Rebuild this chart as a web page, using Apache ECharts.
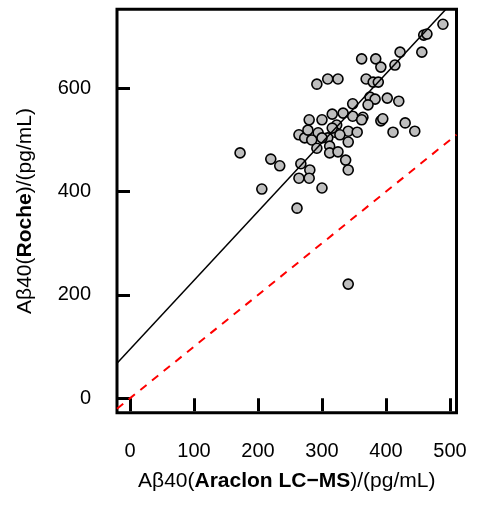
<!DOCTYPE html>
<html>
<head>
<meta charset="utf-8">
<script src="https://cdn.jsdelivr.net/npm/echarts@6/dist/echarts.min.js"></script>
<style>html,body{margin:0;padding:0;background:#fff}#c{width:486px;height:505px}</style>
</head>
<body>
<div id="c"></div>
<script>
// Araclon LC-MS Aβ40 (x) vs Roche Aβ40 (y), pg/mL
const araclon = [489,459,464,456,422,414,362,384,392,292,309,325,369,380,388,375,383,402,420,372,348,316,333,348,364,392,395,362,430,411,445,323,341,355,320,280,300,264,273,278,294,284,309,316,292,312,312,325,341,337,341,220,234,267,281,264,280,300,206,261,172,341,300,328];
const roche   = [724,703,705,670,670,645,657,657,641,608,618,618,618,612,612,583,579,581,575,568,570,550,552,546,544,537,541,539,533,515,517,529,517,515,515,539,539,510,504,519,514,500,504,523,484,488,475,477,496,461,442,463,450,454,442,426,426,407,405,368,475,221,504,510];
const xTicks = [0,100,200,300,400,500];
const yTicks = [0,200,400,600];
const xRange = [-20.3, 510.2];
const yRange = [-27.9, 752.9];
const fitIntercept = 95;
const fitSlope = 1.333;

const pts = araclon.map((x,i)=>[x, roche[i]]);
const fitLine = [[xRange[0], fitIntercept + fitSlope*xRange[0]], [xRange[1], fitIntercept + fitSlope*xRange[1]]];
const idLine = [[xRange[0], xRange[0]], [xRange[1], xRange[1]]];

const FONT = '"Liberation Sans", Arial, Helvetica, sans-serif';
const chart = echarts.init(document.getElementById('c'), null, {renderer:'canvas'});
chart.setOption({
  animation: false,
  backgroundColor: '#fff',
  grid: {left:117, right:29.5, top:9.3, bottom:92.3, show:true, borderColor:'#000', borderWidth:3, backgroundColor:'transparent'},
  xAxis: {
    type:'value', min:xRange[0], max:xRange[1],
    splitLine:{show:false},
    axisLine:{show:false},
    axisTick:{show:true, inside:false, length:13, lineStyle:{color:'#000', width:3}, customValues:xTicks},
    axisLabel:{show:true, margin:29, fontSize:20, color:'#000', fontFamily:FONT, customValues:xTicks},
    name:'Aβ40({b|Araclon LC−MS})/(pg/mL)',
    nameLocation:'middle', nameGap:58,
    nameTextStyle:{fontSize:21, color:'#000', fontFamily:FONT, rich:{b:{fontSize:21, fontWeight:'bold', color:'#000', fontFamily:FONT}}}
  },
  yAxis: {
    type:'value', min:yRange[0], max:yRange[1],
    splitLine:{show:false},
    axisLine:{show:false},
    axisTick:{show:true, inside:false, length:13, lineStyle:{color:'#000', width:3}, customValues:yTicks},
    axisLabel:{show:true, margin:26, fontSize:20, color:'#000', fontFamily:FONT, customValues:yTicks},
    name:'Aβ40({b|Roche})/(pg/mL)',
    nameLocation:'middle', nameGap:81,
    nameTextStyle:{fontSize:21, color:'#000', fontFamily:FONT, rich:{b:{fontSize:21, fontWeight:'bold', color:'#000', fontFamily:FONT}}}
  },
  series: [
    {type:'scatter', data:pts, symbol:'circle', symbolSize:10,
     itemStyle:{color:'#bebebe', borderColor:'#000', borderWidth:1.6, opacity:1}, z:2},
    {type:'line', data:fitLine, showSymbol:false, symbol:'none', clip:true,
     lineStyle:{color:'#000', width:1.5}, z:3},
    {type:'line', data:idLine, showSymbol:false, symbol:'none', clip:true,
     lineStyle:{color:'#ff0000', width:2, type:[8,7]}, z:3}
  ]
});
</script>
</body>
</html>
